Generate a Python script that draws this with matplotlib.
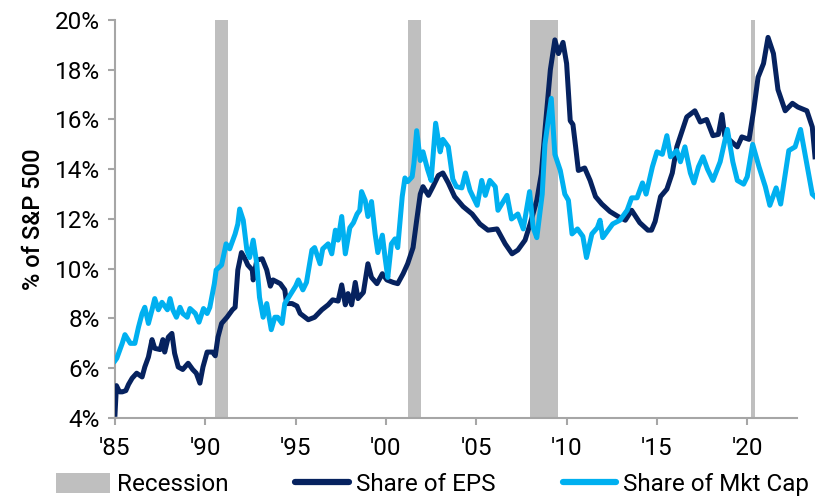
import matplotlib.pyplot as plt
from matplotlib.patches import Patch
from matplotlib.lines import Line2D

# Share of S&P 500 earnings vs market cap

rec_start = [1990.55, 2001.22, 2007.98, 2020.2]
rec_end = [1991.25, 2001.93, 2009.52, 2020.42]

eps_years = [1985.0, 1985.08, 1985.25, 1985.4, 1985.6, 1985.75, 1985.95, 1986.2, 1986.5, 1986.65,
             1986.85, 1987.05, 1987.2, 1987.5, 1987.65, 1987.75, 1987.95, 1988.15, 1988.3, 1988.5,
             1988.75, 1989.05, 1989.3, 1989.5, 1989.7, 1989.87, 1990.1, 1990.4, 1990.55, 1990.7,
             1990.9, 1991.2, 1991.5, 1991.65, 1991.8, 1992.0, 1992.2, 1992.35, 1992.6, 1992.65,
             1992.85, 1993.15, 1993.4, 1993.6, 1993.75, 1994.15, 1994.4, 1994.5, 1994.8, 1995.07,
             1995.25, 1995.7, 1996.05, 1996.45, 1996.8, 1997.05, 1997.35, 1997.55, 1997.75, 1997.9,
             1998.1, 1998.3, 1998.45, 1998.75, 1999.0, 1999.2, 1999.5, 1999.8, 2000.05, 2000.4,
             2000.65, 2000.95, 2001.2, 2001.5, 2001.7, 2001.9, 2002.05, 2002.35, 2002.6, 2002.9,
             2003.15, 2003.45, 2003.8, 2004.27, 2004.77, 2005.2, 2005.65, 2006.15, 2006.6, 2006.98,
             2007.3, 2007.7, 2007.98, 2008.35, 2008.6, 2008.8, 2009.1, 2009.35, 2009.55, 2009.8,
             2010.0, 2010.2, 2010.35, 2010.5, 2010.65, 2011.0, 2011.3, 2011.6, 2011.95, 2012.4,
             2012.85, 2013.25, 2013.6, 2014.05, 2014.5, 2014.7, 2014.9, 2015.2, 2015.55, 2015.85,
             2016.1, 2016.4, 2016.65, 2017.1, 2017.4, 2017.75, 2018.1, 2018.4, 2018.6, 2018.75,
             2019.45, 2019.7, 2020.1, 2020.35, 2020.6, 2020.9, 2021.15, 2021.45, 2021.7, 2022.1,
             2022.5, 2022.8, 2023.3, 2023.6, 2023.75]
eps_share = [4.15, 5.3, 5.05, 5.05, 5.1, 5.35, 5.6, 5.8, 5.65, 6.05,
             6.45, 7.15, 6.8, 6.75, 7.15, 6.65, 7.25, 7.4, 6.6, 6.05,
             5.95, 6.2, 5.95, 5.8, 5.4, 6.05, 6.65, 6.65, 6.5, 7.25,
             7.8, 8.05, 8.35, 8.45, 9.95, 10.65, 10.4, 10.15, 9.95, 9.55,
             10.35, 10.4, 9.95, 9.3, 9.55, 9.4, 9.15, 8.6, 8.6, 8.5,
             8.2, 7.95, 8.05, 8.35, 8.55, 8.75, 8.7, 9.35, 8.55, 9.0,
             8.55, 9.45, 8.8, 9.05, 10.2, 9.65, 9.4, 9.8, 9.55, 9.45,
             9.4, 9.8, 10.2, 10.85, 11.95, 13.0, 13.3, 12.95, 13.3, 13.75,
             13.85, 13.45, 12.9, 12.5, 12.2, 11.8, 11.55, 11.6, 11.0, 10.6,
             10.75, 11.15, 11.8, 12.75, 13.8, 15.55, 18.0, 19.2, 18.65, 19.1,
             18.25, 15.95, 15.8, 14.9, 13.95, 14.05, 13.55, 12.9, 12.6, 12.3,
             12.1, 11.95, 12.35, 11.85, 11.55, 11.55, 11.9, 12.9, 13.2, 13.85,
             14.9, 15.55, 16.1, 16.35, 15.9, 16.0, 15.35, 15.4, 16.2, 15.35,
             14.9, 15.3, 15.2, 16.35, 17.7, 18.25, 19.3, 18.65, 17.2, 16.35,
             16.65, 16.5, 16.35, 15.7, 14.5]

cap_years = [1985.0, 1985.1, 1985.4, 1985.55, 1985.85, 1986.1, 1986.3, 1986.5, 1986.65, 1986.85,
             1987.05, 1987.2, 1987.4, 1987.6, 1987.9, 1988.05, 1988.2, 1988.4, 1988.6, 1988.75,
             1989.0, 1989.15, 1989.45, 1989.65, 1989.9, 1990.1, 1990.25, 1990.5, 1990.6, 1990.9,
             1991.15, 1991.35, 1991.65, 1991.8, 1991.9, 1992.1, 1992.3, 1992.45, 1992.65, 1992.85,
             1993.0, 1993.2, 1993.4, 1993.65, 1993.85, 1994.0, 1994.25, 1994.4, 1994.7, 1995.0,
             1995.15, 1995.4, 1995.6, 1995.9, 1996.05, 1996.35, 1996.5, 1996.8, 1997.0, 1997.2,
             1997.35, 1997.55, 1997.75, 1998.0, 1998.2, 1998.4, 1998.55, 1998.65, 1998.85, 1999.0,
             1999.2, 1999.4, 1999.55, 1999.8, 1999.95, 2000.1, 2000.3, 2000.5, 2000.65, 2000.9,
             2001.05, 2001.2, 2001.45, 2001.55, 2001.7, 2001.9, 2002.05, 2002.3, 2002.5, 2002.75,
             2003.0, 2003.15, 2003.45, 2003.7, 2003.9, 2004.2, 2004.4, 2004.65, 2005.05, 2005.3,
             2005.5, 2005.75, 2006.05, 2006.2, 2006.7, 2006.95, 2007.3, 2007.6, 2007.95, 2008.15,
             2008.35, 2008.65, 2008.8, 2009.15, 2009.35, 2009.65, 2009.9, 2010.1, 2010.3, 2010.6,
             2010.9, 2011.1, 2011.4, 2011.7, 2011.85, 2012.0, 2012.3, 2012.55, 2012.95, 2013.35,
             2013.6, 2013.9, 2014.2, 2014.4, 2014.75, 2015.0, 2015.3, 2015.55, 2015.75, 2016.1,
             2016.3, 2016.55, 2016.85, 2017.05, 2017.3, 2017.55, 2017.8, 2018.1, 2018.5, 2018.9,
             2019.2, 2019.45, 2019.8, 2020.0, 2020.3, 2020.65, 2021.0, 2021.25, 2021.6, 2021.85,
             2022.3, 2022.65, 2022.95, 2023.3, 2023.6, 2023.75]
cap_share = [6.3, 6.4, 7.0, 7.35, 7.0, 7.0, 7.65, 8.2, 8.45, 7.8,
             8.35, 8.8, 8.35, 8.65, 8.35, 8.8, 8.35, 8.05, 8.45, 8.2,
             8.05, 8.4, 8.2, 7.85, 8.4, 8.2, 8.45, 9.4, 9.95, 10.15,
             11.0, 10.8, 11.4, 11.8, 12.4, 11.95, 10.75, 10.45, 11.15, 10.2,
             8.85, 8.05, 8.6, 7.55, 8.05, 8.05, 7.8, 8.6, 8.95, 9.3,
             9.55, 9.15, 9.45, 10.75, 10.85, 10.2, 10.8, 11.0, 10.6, 11.55,
             11.15, 12.1, 10.6, 11.65, 11.85, 12.2, 12.35, 13.1, 12.75, 12.1,
             12.7, 11.4, 10.65, 11.35, 10.45, 9.65, 11.0, 11.2, 10.85, 12.9,
             13.65, 13.5, 13.7, 14.25, 15.55, 14.35, 14.7, 14.0, 13.55, 15.85,
             14.7, 15.2, 14.9, 13.6, 13.3, 13.25, 13.85, 13.15, 12.55, 13.55,
             12.95, 13.55, 13.3, 12.35, 12.95, 12.0, 12.2, 11.6, 13.1, 11.65,
             11.25, 13.0, 15.0, 16.85, 14.6, 13.95, 13.0, 12.75, 11.4, 11.6,
             11.3, 10.45, 11.4, 11.65, 11.95, 11.25, 11.55, 11.8, 11.95, 12.35,
             12.85, 12.85, 13.45, 13.0, 14.1, 14.7, 14.6, 15.35, 14.5, 14.75,
             14.3, 14.9, 13.85, 13.45, 14.1, 14.5, 14.0, 13.55, 14.3, 15.6,
             14.3, 13.55, 13.4, 13.7, 15.0, 14.1, 13.3, 12.55, 13.25, 12.6,
             14.75, 14.9, 15.6, 14.2, 13.0, 12.9]

tick_years = [1985, 1990, 1995, 2000, 2005, 2010, 2015, 2020]
tick_labels = ["'85", "'90", "'95", "'00", "'05", "'10", "'15", "'20"]

navy = '#06225f'
sky = '#00b0f0'
grey = '#bfbfbf'
axis_grey = '#a6a6a6'

plt.rcParams['font.family'] = ['Roboto', 'DejaVu Sans']

fig = plt.figure(figsize=(8.15, 4.96), dpi=100)
ax = fig.add_axes([0.1411, 0.1573, 0.8589, 0.8024])

for s, e in zip(rec_start, rec_end):
    ax.axvspan(s, e, color=grey, lw=0, zorder=1)

ax.plot(eps_years, eps_share, color=navy, lw=3.6, zorder=3, solid_joinstyle='round')
ax.plot(cap_years, cap_share, color=sky, lw=3.6, zorder=4, solid_joinstyle='round')

ax.set_xlim(1985, 2023.75)
ax.set_ylim(4, 20)
ax.set_yticks(range(4, 21, 2))
ax.set_yticklabels([f'{v}%' for v in range(4, 21, 2)])
ax.set_xticks(tick_years)
ax.set_xticklabels(tick_labels)

for side in ['top', 'right']:
    ax.spines[side].set_visible(False)
for side in ['left', 'bottom']:
    ax.spines[side].set_color(axis_grey)
    ax.spines[side].set_linewidth(1.5)
ax.spines['bottom'].set_bounds(1985, 2022.75)
ax.tick_params(axis='both', colors=axis_grey, labelcolor='black', labelsize=17.5,
               length=5, width=1.5, direction='out')
ax.tick_params(axis='x', pad=9)
ax.tick_params(axis='y', pad=6)

ax.set_ylabel('% of S&P 500', fontsize=17, fontweight='medium', labelpad=7)

handles = [Patch(facecolor=grey, edgecolor='none'),
           Line2D([0], [0], color=navy, lw=4.5, solid_capstyle='round'),
           Line2D([0], [0], color=sky, lw=4.5, solid_capstyle='round')]
labels = ['Recession', 'Share of EPS', 'Share of Mkt Cap']
fig.legend(handles, labels, loc='lower center', bbox_to_anchor=(0.531, -0.045), ncol=3,
           frameon=False, fontsize=17.5, handlelength=2.2, handleheight=0.9,
           columnspacing=2.75, handletextpad=0.3)

fig.savefig('out.png', dpi=100)
